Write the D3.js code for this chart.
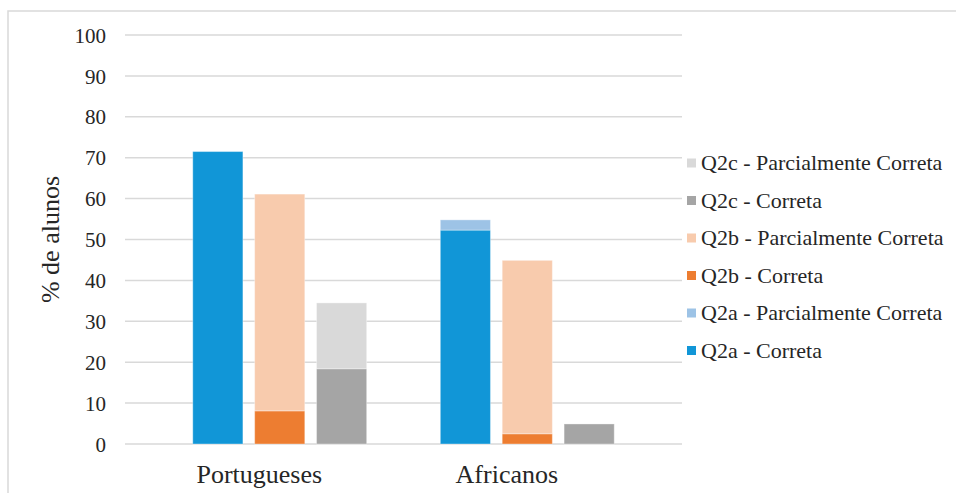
<!DOCTYPE html>
<html>
<head>
<meta charset="utf-8">
<script src="https://cdn.jsdelivr.net/npm/d3@7"></script>
<style>
  html, body { margin: 0; padding: 0; background: #fff; }
  svg { display: block; }
</style>
</head>
<body>
<svg id="chart" width="956" height="493"></svg>
<script>
// Groups of students and the questions shown for each group
const groups = ["Portugueses", "Africanos"];
const questions = ["Q2a", "Q2b", "Q2c"];
const yTicks = [0, 10, 20, 30, 40, 50, 60, 70, 80, 90, 100];

// Percentage of students per answer type (one value per group)
const q2aCorreta = [71.5, 52.3];
const q2aParcial = [0.0, 2.5];
const q2bCorreta = [8.1, 2.5];
const q2bParcial = [53.0, 42.4];
const q2cCorreta = [18.4, 4.9];
const q2cParcial = [16.1, 0.0];

// Series in legend order (top to bottom)
const series = [
  { name: "Q2c - Parcialmente Correta", q: "Q2c", part: "parcial", values: q2cParcial, color: "#d9d9d9" },
  { name: "Q2c - Correta",              q: "Q2c", part: "correta", values: q2cCorreta, color: "#a5a5a5" },
  { name: "Q2b - Parcialmente Correta", q: "Q2b", part: "parcial", values: q2bParcial, color: "#f8cbad" },
  { name: "Q2b - Correta",              q: "Q2b", part: "correta", values: q2bCorreta, color: "#ed7d31" },
  { name: "Q2a - Parcialmente Correta", q: "Q2a", part: "parcial", values: q2aParcial, color: "#9dc3e6" },
  { name: "Q2a - Correta",              q: "Q2a", part: "correta", values: q2aCorreta, color: "#1196d7" }
];

const FONT = "'Liberation Serif', 'Times New Roman', 'DejaVu Serif', serif";
const INK = "#262626";

const svg = d3.select("#chart");

// Outer chart frame (left and top edges visible)
svg.append("path")
  .attr("d", "M8,493 L8,11 L956,11")
  .attr("fill", "none")
  .attr("stroke", "#d9d9d9")
  .attr("stroke-width", 1.5);

const plot = { left: 125, right: 682, top: 35, bottom: 444 };

// Slots: an empty slot before each group and one at the end
const slots = [];
groups.forEach((g, gi) => {
  slots.push("gap" + gi);
  questions.forEach(q => slots.push(g + "|" + q));
});
slots.push("gapEnd");

const x = d3.scaleBand()
  .domain(slots)
  .range([plot.left, plot.right])
  .paddingInner(0.19)
  .paddingOuter(0.095);

const y = d3.scaleLinear()
  .domain([0, 100])
  .range([plot.bottom, plot.top]);

// Gridlines
svg.append("g")
  .selectAll("line")
  .data(yTicks)
  .join("line")
  .attr("x1", plot.left)
  .attr("x2", plot.right)
  .attr("y1", d => y(d))
  .attr("y2", d => y(d))
  .attr("stroke", "#d9d9d9")
  .attr("stroke-width", 1.5);

// Y axis tick labels
const yAxis = d3.axisLeft(y).tickValues(yTicks).tickSize(0).tickPadding(0);
const yG = svg.append("g")
  .attr("transform", `translate(106,0)`)
  .call(yAxis)
  .attr("font-family", null)
  .attr("font-size", null);
yG.select(".domain").remove();
yG.selectAll("text")
  .style("font-family", FONT)
  .style("font-size", "21px")
  .style("fill", INK)
  .attr("dy", "0.34em");

// Y axis title
svg.append("text")
  .attr("transform", `translate(59,${(plot.top + plot.bottom) / 2}) rotate(-90)`)
  .attr("text-anchor", "middle")
  .style("font-family", FONT)
  .style("font-size", "26px")
  .style("fill", INK)
  .text("% de alunos");

// Stacked bars: "Correta" at the bottom, "Parcialmente Correta" above
const bars = [];
groups.forEach((g, gi) => {
  questions.forEach(q => {
    const cor = series.find(s => s.q === q && s.part === "correta");
    const par = series.find(s => s.q === q && s.part === "parcial");
    const c = cor.values[gi], p = par.values[gi];
    bars.push({ key: g + "|" + q, y0: 0, y1: c, color: cor.color });
    bars.push({ key: g + "|" + q, y0: c, y1: c + p, color: par.color });
  });
});

svg.append("g")
  .selectAll("rect")
  .data(bars.filter(b => b.y1 > b.y0))
  .join("rect")
  .attr("x", d => x(d.key))
  .attr("width", x.bandwidth())
  .attr("y", d => y(d.y1))
  .attr("height", d => y(d.y0) - y(d.y1))
  .attr("fill", d => d.color)
  .attr("stroke", "#ffffff")
  .attr("stroke-opacity", 0.35)
  .attr("stroke-width", 1);

// Category labels beneath each group
svg.append("g")
  .selectAll("text")
  .data(groups)
  .join("text")
  .attr("x", g => x(g + "|Q2b") + x.bandwidth() / 2 - x.step() * 0.33)
  .attr("y", 483)
  .attr("text-anchor", "middle")
  .style("font-family", FONT)
  .style("font-size", "26px")
  .style("fill", INK)
  .text(g => g);

// Legend
const legend = svg.append("g").attr("transform", "translate(687,163)");
const rowH = 37.5;
const item = legend.selectAll("g")
  .data(series)
  .join("g")
  .attr("transform", (d, i) => `translate(0,${i * rowH})`);
item.append("rect")
  .attr("x", 0)
  .attr("y", -4.5)
  .attr("width", 9)
  .attr("height", 9)
  .attr("fill", d => d.color);
item.append("text")
  .attr("x", 14)
  .attr("y", 0)
  .attr("dy", "0.34em")
  .style("font-family", FONT)
  .style("font-size", "22px")
  .style("fill", INK)
  .text(d => d.name);
</script>
</body>
</html>
